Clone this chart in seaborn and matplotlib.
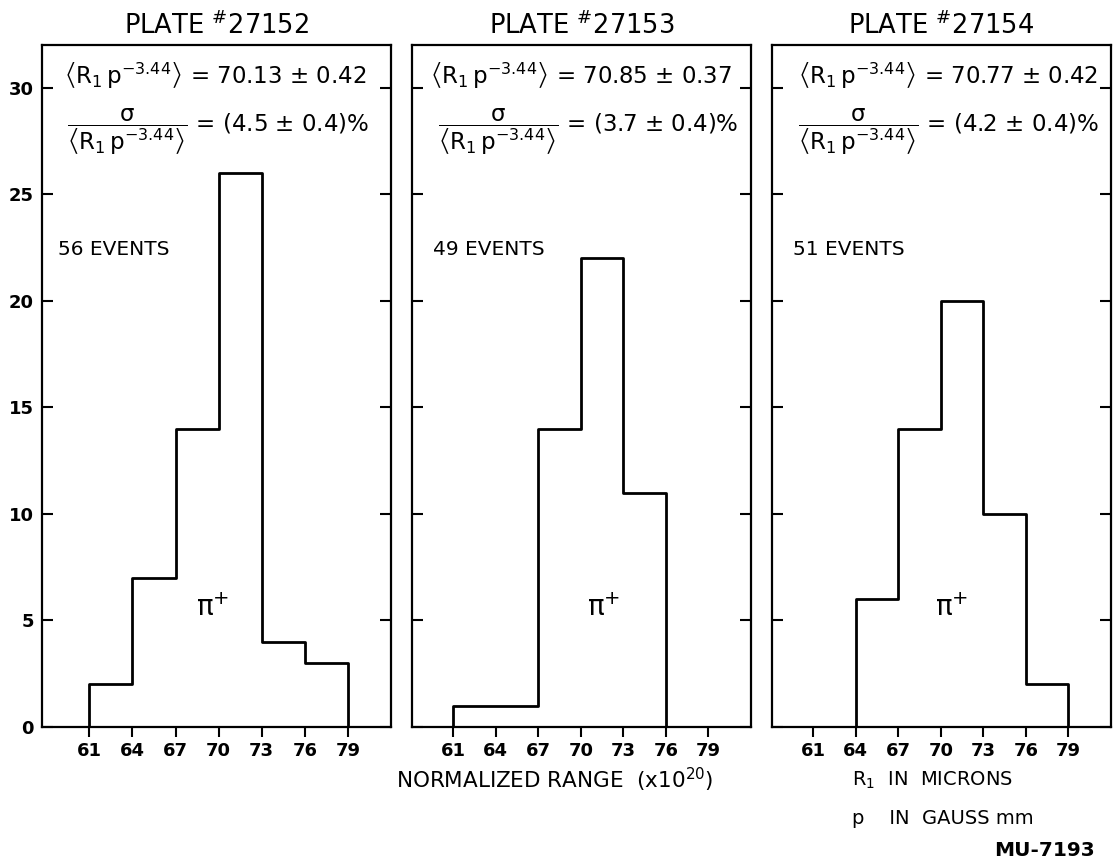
import numpy as np
import pandas as pd
import matplotlib
matplotlib.use("Agg")
import matplotlib.pyplot as plt
import seaborn as sns

# ---- data ----
bin_edges = [61, 64, 67, 70, 73, 76, 79]
plates = ["27152", "27153", "27154"]
counts_27152 = [2, 7, 14, 26, 4, 3]
counts_27153 = [1, 1, 14, 22, 11, 0]
counts_27154 = [0, 6, 14, 20, 10, 2]
mean_text = ["70.13 ± 0.42", "70.85 ± 0.37", "70.77 ± 0.42"]
sigma_text = ["(4.5 ± 0.4)%", "(3.7 ± 0.4)%", "(4.2 ± 0.4)%"]
events = ["56 EVENTS", "49 EVENTS", "51 EVENTS"]
y_ticks = [0, 5, 10, 15, 20, 25, 30]

all_counts = [counts_27152, counts_27153, counts_27154]

sns.set_theme(style="white")
plt.rcParams["font.family"] = ["DejaVu Sans"]
plt.rcParams["mathtext.fontset"] = "dejavusans"
plt.rcParams["mathtext.default"] = "regular"
plt.rcParams["text.color"] = "black"
plt.rcParams["axes.labelcolor"] = "black"
plt.rcParams["xtick.color"] = "black"
plt.rcParams["ytick.color"] = "black"
plt.rcParams["axes.titlecolor"] = "black"

fig = plt.figure(figsize=(11.13, 8.63), dpi=100)
W, H = 1113, 863
panels_px = [(42, 391, (57.7, 82.0)), (412, 751, (58.1, 82.0)), (772, 1111, (58.1, 82.0))]
top_px, bot_px = 45, 727

# padded edges so the outline drops to the baseline at both ends
step = bin_edges[1] - bin_edges[0]
edges_pad = [bin_edges[0] - step] + bin_edges + [bin_edges[-1] + step]
centers = [(a + b) / 2 for a, b in zip(edges_pad[:-1], edges_pad[1:])]

mean_x = [0.062, 0.053, 0.077]
frac_x = [0.072, 0.077, 0.077]
ev_x = [0.046, 0.062, 0.062]
pi_x = [69.6, 71.6, 70.8]

for i, (l, r, xl) in enumerate(panels_px):
    ax = fig.add_axes([l / W, 1 - bot_px / H, (r - l) / W, (bot_px - top_px) / H])
    w = [0] + all_counts[i] + [0]
    df = pd.DataFrame({"x": centers, "w": w})
    sns.histplot(data=df, x="x", weights="w", bins=edges_pad, element="step",
                 fill=False, color="black", linewidth=2.0, ax=ax)
    ax.set_xlim(*xl)
    ax.set_ylim(0, 32)
    ax.set_xlabel("")
    ax.set_ylabel("")
    for s in ax.spines.values():
        s.set_visible(True)
        s.set_color("black")
        s.set_linewidth(1.6)
    ax.set_xticks(bin_edges)
    ax.set_xticklabels([str(v) for v in bin_edges], fontsize=13, fontweight="bold")
    ax.set_yticks(y_ticks)
    ax.tick_params(axis="x", direction="out", length=7, width=1.5, color="black",
                   bottom=True, pad=4)
    ax.tick_params(axis="y", direction="in", length=8, width=1.5, color="black",
                   left=True, right=True, labelleft=(i == 0), pad=6)
    if i == 0:
        ax.set_yticklabels([str(v) for v in y_ticks], fontsize=13, fontweight="bold")
    ax.set_title(r"PLATE $^{\#}$" + plates[i], fontsize=18.5, pad=8, color="black")

    ax.text(mean_x[i], 0.955,
            r"$\left\langle R_1\, p^{-3.44}\right\rangle$" + " = " + mean_text[i],
            transform=ax.transAxes, fontsize=16.5, ha="left", va="center")
    ax.text(frac_x[i], 0.872,
            r"$\dfrac{\sigma}{\left\langle R_1\, p^{-3.44}\right\rangle}$" + " = " + sigma_text[i],
            transform=ax.transAxes, fontsize=16.5, ha="left", va="center")
    ax.text(ev_x[i], 0.70, events[i], transform=ax.transAxes, fontsize=14.5,
            ha="left", va="center")
    ax.text(pi_x[i], 5.6, r"$\pi^{+}$", fontsize=20, ha="center", va="center")

fig.text(0.4987, 0.096, r"NORMALIZED RANGE  (x10$^{20}$)", fontsize=15.5,
         ha="center", va="center")
fig.text(0.7655, 0.096, r"R$_1$  IN  MICRONS", fontsize=14, ha="left", va="center")
fig.text(0.7655, 0.052, "p    IN  GAUSS mm", fontsize=14, ha="left", va="center")
fig.text(0.984, 0.015, "MU-7193", fontsize=14.5, fontweight="bold", ha="right", va="center")

fig.savefig("out.png", dpi=100)
